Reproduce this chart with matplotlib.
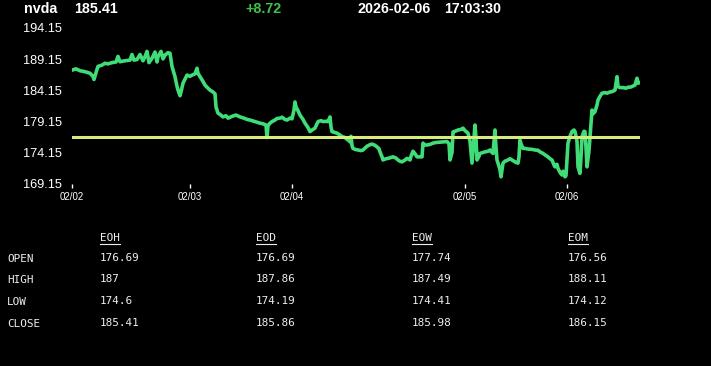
import matplotlib
matplotlib.use('Agg')
import matplotlib.pyplot as plt
from matplotlib.lines import Line2D

# --- datos ---
symbol = 'nvda'
last_price = '185.41'
change = '+8.72'
date_str = '2026-02-06'
time_str = '17:03:30'

open_ref = 176.69  # linea horizontal (apertura)

# indice de barra y precio (filas de 10)
bar_idx = [0, 4, 8, 13, 18, 21, 22, 24, 26, 30,
           33, 36, 40, 44, 46, 48, 53, 58, 60, 62,
           65, 68, 71, 73, 75, 77, 80, 83, 85, 86,
           89, 91, 93, 96, 98, 100, 103, 105, 106, 108,
           109, 111, 115, 118, 120, 123, 125, 126, 128, 131,
           133, 136, 138, 141, 143, 144, 146, 148, 151, 154,
           156, 159, 161, 164, 168, 172, 175, 178, 181, 184,
           188, 191, 194, 195, 196, 198, 200, 203, 205, 208,
           210, 213, 215, 218, 220, 222, 223, 224, 226, 228,
           231, 233, 236, 238, 240, 243, 245, 246, 249, 251,
           254, 256, 258, 259, 260, 263, 265, 268, 270, 273,
           275, 277, 278, 279, 280, 281, 283, 286, 289, 291,
           293, 295, 298, 300, 303, 305, 307, 308, 310, 311,
           314, 316, 319, 321, 324, 326, 328, 330, 333, 335,
           337, 338, 339, 341, 343, 345, 348, 350, 351, 353,
           355, 358, 361, 364, 368, 372, 375, 377, 378, 380,
           381, 383, 386, 389, 391, 393, 396, 398, 400, 401,
           403, 404, 405, 407, 408, 411, 413, 416, 418, 420,
           421, 423, 424, 425, 427, 428, 429, 431, 433, 436,
           438, 441, 444, 446, 447, 448, 449, 451, 453, 456,
           460, 463, 466, 468, 471, 474, 476, 478, 480, 482,
           483, 485, 486, 488, 490, 491, 493, 494, 495, 496,
           498, 500, 502, 503, 505, 506, 508, 509, 510, 512,
           513, 514, 515, 517, 518, 519, 520, 521, 523, 525,
           526, 528, 530, 533, 535, 538, 540, 542, 543, 545,
           546, 548, 551, 554, 556, 559, 561, 563, 565, 566,
           568]
price = [187.4, 187.6, 187.3, 187.15, 186.9, 186.4, 185.9, 187.0, 188.0, 188.2,
         188.5, 188.4, 188.6, 188.7, 189.6, 188.75, 188.9, 189.0, 189.9, 189.0,
         189.1, 189.9, 188.9, 189.55, 190.4, 188.6, 189.3, 190.3, 188.7, 189.55,
         190.4, 189.2, 189.8, 190.2, 190.1, 188.0, 186.35, 184.8, 184.2, 183.3,
         183.9, 185.3, 186.6, 186.4, 186.6, 186.8, 187.7, 186.9, 186.35, 185.6,
         185.0, 184.5, 184.2, 183.9, 183.6, 181.5, 180.5, 180.3, 179.9, 180.1,
         179.7, 179.9, 180.05, 180.2, 179.9, 179.7, 179.5, 179.4, 179.25, 179.1,
         178.9, 178.8, 178.6, 176.6, 178.5, 178.9, 179.15, 179.4, 179.65, 179.7,
         179.85, 179.5, 179.4, 179.7, 179.6, 181.0, 182.3, 181.5, 180.9, 180.2,
         179.5, 178.9, 178.2, 177.55, 177.8, 178.1, 178.8, 179.15, 179.3, 179.15,
         179.2, 179.15, 179.9, 178.3, 177.55, 177.4, 177.3, 177.0, 176.75, 176.6,
         176.3, 176.1, 175.9, 176.8, 175.3, 174.85, 174.7, 174.6, 174.5, 174.6,
         174.9, 175.2, 175.45, 175.55, 175.35, 175.1, 174.8, 174.3, 173.5, 173.0,
         173.2, 173.25, 173.4, 173.5, 173.3, 173.0, 172.8, 172.7, 173.0, 173.25,
         173.1, 173.0, 173.6, 174.4, 174.0, 173.5, 173.5, 173.5, 175.7, 175.4,
         175.4, 175.5, 175.7, 175.8, 175.85, 175.9, 175.95, 175.6, 173.0, 174.2,
         177.5, 177.6, 177.8, 177.9, 178.1, 177.7, 177.3, 176.0, 172.5, 174.5,
         178.6, 176.5, 173.0, 173.6, 174.05, 174.2, 174.3, 174.4, 174.6, 174.2,
         174.05, 177.8, 175.0, 173.0, 172.0, 171.4, 170.3, 172.5, 172.8, 173.0,
         173.2, 172.9, 172.6, 172.5, 173.5, 176.2, 175.6, 174.85, 174.85, 174.75,
         174.7, 174.6, 174.55, 174.3, 174.05, 173.7, 173.5, 173.2, 173.0, 172.2,
         171.9, 172.3, 171.65, 171.0, 170.6, 171.2, 170.3, 170.5, 173.0, 175.7,
         176.8, 177.55, 177.8, 177.55, 176.0, 171.9, 170.85, 173.5, 176.75, 177.6,
         177.55, 175.0, 171.9, 174.5, 176.75, 179.0, 181.0, 180.4, 180.75, 181.8,
         182.6, 183.2, 183.7, 183.8, 183.7, 183.9, 183.95, 184.1, 184.2, 186.35,
         184.75, 184.6, 184.6, 184.5, 184.65, 184.7, 184.85, 185.0, 186.1, 185.3,
         185.41]

day_ticks = [0, 118, 220, 393, 495]
day_labels = ['02/02', '02/03', '02/04', '02/05', '02/06']
y_ticks = [194.15, 189.15, 184.15, 179.15, 174.15, 169.15]

# tabla OHLC
row_names = ['OPEN', 'HIGH', 'LOW', 'CLOSE']
col_names = ['EOH', 'EOD', 'EOW', 'EOM']
eoh = ['176.69', '187', '174.6', '185.41']
eod = ['176.69', '187.86', '174.19', '185.86']
eow = ['177.74', '187.49', '174.41', '185.98']
eom = ['176.56', '188.11', '174.12', '186.15']
table_cols = [eoh, eod, eow, eom]

W, H = 711, 366
fig = plt.figure(figsize=(W / 100, H / 100), dpi=100, facecolor='black')

# --- grafico de precio ---
ax = fig.add_axes([72 / W, 1 - 184 / H, 568 / W, 156 / H], facecolor='black')
ax.plot(bar_idx, price, color='#3fdc78', linewidth=2.6, solid_joinstyle='round')
ax.axhline(open_ref, color='#d8ec7e', linewidth=2.2)
ax.set_xlim(0, 568)
ax.set_ylim(169.15, 194.15)
ax.set_xticks(day_ticks)
ax.set_xticklabels(day_labels, fontsize=7, color='white', family='Liberation Sans')
ax.set_yticks(y_ticks)
ax.set_yticklabels([f'{v:.2f}' for v in y_ticks], fontsize=9.2, color='white', family='Liberation Sans')
ax.tick_params(axis='x', colors='white', length=3, width=1, pad=3)
ax.tick_params(axis='y', length=0, pad=7, labelcolor='white')
for s in ax.spines.values():
    s.set_visible(False)

# --- encabezado ---
hy = 1 - 9 / H
hdr = dict(fontsize=10.3, fontweight='bold', va='center', family='Liberation Sans')
fig.text(24 / W, hy, symbol, color='white', **hdr)
fig.text(74 / W, hy, last_price, color='white', **hdr)
fig.text(245 / W, hy, change, color='#3ec24a', **hdr)
fig.text(358 / W, hy, date_str, color='white', **hdr)
fig.text(444 / W, hy, time_str, color='white', **hdr)

# --- tabla ---
mono = dict(fontsize=7.9, family='DejaVu Sans Mono', color='#eeeeee', va='center')
col_x = [100, 256, 412, 568]
row_y = [259, 280, 302, 324]
head_y = 238

for name, y in zip(row_names, row_y):
    fig.text(7 / W, 1 - y / H, name, **mono)

head_texts = []
for name, x in zip(col_names, col_x):
    head_texts.append(fig.text(x / W, 1 - head_y / H, name, **mono))

for vals, x in zip(table_cols, col_x):
    for v, y in zip(vals, row_y):
        fig.text(x / W, 1 - (y - 1) / H, v, **mono)

# subrayado de los encabezados
fig.canvas.draw()
r = fig.canvas.get_renderer()
for t in head_texts:
    bb = t.get_window_extent(renderer=r)
    yl = (H - 243.5) / H
    fig.add_artist(Line2D([bb.x0 / W, bb.x1 / W], [yl, yl], color='#eeeeee', linewidth=0.8))

fig.savefig('out.png', dpi=100, facecolor='black')
